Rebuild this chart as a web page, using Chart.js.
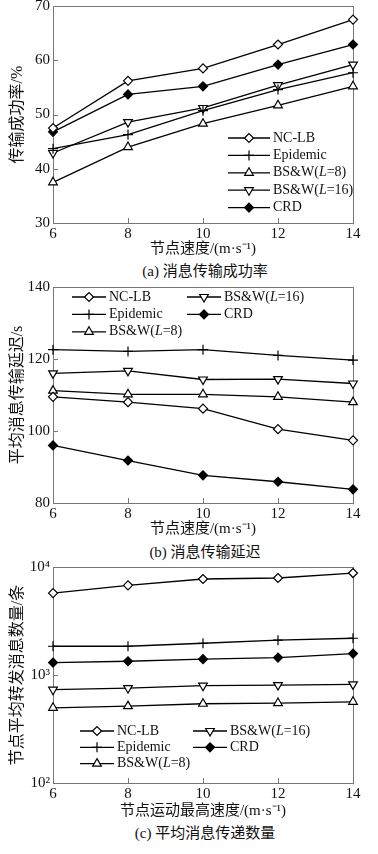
<!DOCTYPE html>
<html lang="zh">
<head>
<meta charset="UTF-8">
<title>节点速度对比</title>
<script src="https://cdn.jsdelivr.net/npm/chart.js@4"></script>
<style>
  body { margin: 0; background: #fff; }
  .box { position: absolute; left: 0; width: 378px; }
  .cap { position: absolute; left: 105px; width: 200px; text-align: center;
         font: 15px "Liberation Serif", "Noto Sans CJK SC", serif; line-height: 20px; color: #111; }
</style>
</head>
<body>
<div class="box" style="top:-6px;height:264px"><canvas id="chartA"></canvas></div>
<div class="cap" style="top:261px">(a) 消息传输成功率</div>
<div class="box" style="top:275px;height:263px"><canvas id="chartB"></canvas></div>
<div class="cap" style="top:542px">(b) 消息传输延迟</div>
<div class="box" style="top:555px;height:265px"><canvas id="chartC"></canvas></div>
<div class="cap" style="top:823px">(c) 平均消息传递数量</div>

<script>
// x values (node speed, m/s)
const speeds = [6, 8, 10, 12, 14];
const seriesNames = ['NC-LB', 'Epidemic', 'BS&W(L=8)', 'BS&W(L=16)', 'CRD'];

// (a) delivery ratio, %
const successNCLB = [47.5, 56.2, 58.5, 62.9, 67.5];
const successEpidemic = [43.7, 46.3, 50.7, 54.6, 57.7];
const successBSW8 = [37.5, 44.0, 48.3, 51.7, 55.2];
const successBSW16 = [42.9, 48.6, 51.2, 55.4, 59.2];
const successCRD = [46.8, 53.7, 55.2, 59.2, 62.9];

// (b) average delay, s
const delayNCLB = [109.5, 108.0, 106.2, 100.5, 97.4];
const delayEpidemic = [122.6, 122.1, 122.6, 121.0, 119.7];
const delayBSW8 = [111.2, 110.2, 110.2, 109.5, 108.0];
const delayBSW16 = [116.0, 116.7, 114.3, 114.4, 113.2];
const delayCRD = [96.0, 91.8, 87.7, 85.9, 83.8];

// (c) forwarded messages per node
const countNCLB = [5730, 6760, 7740, 7910, 8790];
const countEpidemic = [1846, 1846, 1968, 2100, 2190];
const countBSW8 = [497, 515, 542, 550, 565];
const countBSW16 = [731, 757, 796, 807, 819];
const countCRD = [1302, 1340, 1400, 1449, 1578];

const logTickLabels = { 100: '10²', 1000: '10³', 10000: '10⁴' };

const SERIF = '"Liberation Serif", "Noto Sans CJK SC", serif';

// marker look for each series, same order as seriesNames
const markers = [
  { pointStyle: 'rectRot', pointRadius: 4.5, pointBackgroundColor: '#fff', pointRotation: 0 },
  { pointStyle: 'cross', pointRadius: 5, pointBackgroundColor: '#fff', pointRotation: 0 },
  { pointStyle: 'triangle', pointRadius: 5, pointBackgroundColor: '#fff', pointRotation: 0 },
  { pointStyle: 'triangle', pointRadius: 5, pointBackgroundColor: '#fff', pointRotation: 180 },
  { pointStyle: 'rectRot', pointRadius: 4.5, pointBackgroundColor: '#000', pointRotation: 0 }
];

function makeDatasets(arrays) {
  return arrays.map((arr, i) => Object.assign({
    label: seriesNames[i],
    data: speeds.map((x, j) => ({ x: x, y: arr[j] })),
    borderColor: '#000',
    borderWidth: 1.3,
    pointBorderColor: '#000',
    pointBorderWidth: 1.2,
    pointHoverRadius: 5,
    clip: false
  }, markers[i]));
}

// frame + inward tick marks
const frameTicks = {
  id: 'frameTicks',
  beforeDatasetsDraw(chart) {
    const { ctx, chartArea: a, scales: { x, y } } = chart;
    ctx.save();
    ctx.strokeStyle = '#777';
    ctx.lineWidth = 1;
    ctx.strokeRect(a.left + 0.5, a.top + 0.5, a.right - a.left, a.bottom - a.top);
    ctx.beginPath();
    x.ticks.forEach(t => {
      const px = Math.round(x.getPixelForValue(t.value)) + 0.5;
      ctx.moveTo(px, a.bottom); ctx.lineTo(px, a.bottom - 5);
    });
    y.ticks.forEach(t => {
      const py = Math.round(y.getPixelForValue(t.value)) + 0.5;
      ctx.moveTo(a.left, py); ctx.lineTo(a.left + 5, py);
    });
    ctx.stroke();
    ctx.restore();
  }
};

function drawLegendLabel(ctx, text, x, y) {
  // italic L in BS&W(L=..)
  const parts = text.split(/(L)(?==)/);
  parts.forEach(p => {
    ctx.font = (p === 'L' ? 'italic ' : '') + '14px ' + SERIF;
    ctx.fillText(p, x, y);
    x += ctx.measureText(p).width;
  });
}

// legend drawn inside the plot, in columns
const insideLegend = {
  id: 'insideLegend',
  afterDatasetsDraw(chart, args, opts) {
    const { ctx, chartArea: a } = chart;
    ctx.save();
    ctx.textBaseline = 'middle';
    ctx.textAlign = 'left';
    opts.columns.forEach(col => {
      col.items.forEach((idx, row) => {
        const ds = chart.data.datasets[idx];
        const y = a.top + opts.y + row * opts.rowHeight;
        const x0 = a.left + col.x, x1 = x0 + opts.lineLength;
        ctx.strokeStyle = ds.borderColor;
        ctx.lineWidth = ds.borderWidth;
        ctx.beginPath(); ctx.moveTo(x0, y); ctx.lineTo(x1, y); ctx.stroke();
        ctx.fillStyle = ds.pointBackgroundColor;
        ctx.strokeStyle = ds.pointBorderColor;
        ctx.lineWidth = ds.pointBorderWidth;
        Chart.helpers.drawPoint(ctx, {
          pointStyle: ds.pointStyle, rotation: ds.pointRotation,
          radius: ds.pointRadius, borderWidth: ds.pointBorderWidth
        }, (x0 + x1) / 2, y);
        ctx.fillStyle = '#111';
        drawLegendLabel(ctx, ds.label, x1 + opts.gap, y);
      });
    });
    ctx.restore();
  }
};

function makeChart(id, arrays, yScale, yTitle, xTitle, xHeight, legend) {
  return new Chart(document.getElementById(id), {
    type: 'line',
    data: { datasets: makeDatasets(arrays) },
    plugins: [frameTicks, insideLegend],
    options: {
      responsive: true,
      maintainAspectRatio: false,
      animation: false,
      layout: { padding: { top: 12, right: 25, left: 0, bottom: 0 } },
      plugins: {
        legend: { display: false },
        tooltip: { enabled: false },
        insideLegend: legend
      },
      scales: {
        x: {
          type: 'linear', min: 6, max: 14,
          grid: { display: false, drawTicks: false },
          border: { display: false },
          ticks: { stepSize: 2, padding: 2, color: '#111', font: { family: SERIF, size: 15 } },
          title: { display: true, text: xTitle, color: '#111', padding: 0, font: { family: SERIF, size: 15 } },
          afterFit: s => { s.height = xHeight; }
        },
        y: Object.assign({
          grid: { display: false, drawTicks: false },
          border: { display: false },
          title: { display: true, text: yTitle, color: '#111', padding: { top: 8, bottom: 0 }, font: { family: SERIF, size: 16 } },
          afterFit: s => { s.width = 53; }
        }, yScale)
      }
    }
  });
}

makeChart('chartA',
  [successNCLB, successEpidemic, successBSW8, successBSW16, successCRD],
  { min: 30, max: 70, ticks: { stepSize: 10, padding: 3, color: '#111', font: { family: SERIF, size: 15 } } },
  '传输成功率/%', '节点速度/(m·s⁻¹)', 35,
  { columns: [{ x: 175, items: [0, 1, 2, 3, 4] }], y: 132, rowHeight: 17.4, lineLength: 42, gap: 3 });

makeChart('chartB',
  [delayNCLB, delayEpidemic, delayBSW8, delayBSW16, delayCRD],
  { min: 80, max: 140, ticks: { stepSize: 20, padding: 3, color: '#111', font: { family: SERIF, size: 15 } } },
  '平均消息传输延迟/s', '节点速度/(m·s⁻¹)', 35,
  { columns: [{ x: 19, items: [0, 1, 2] }, { x: 134, items: [3, 4] }], y: 10, rowHeight: 17.4, lineLength: 34, gap: 3 });

makeChart('chartC',
  [countNCLB, countEpidemic, countBSW8, countBSW16, countCRD],
  {
    type: 'logarithmic', min: 100, max: 10000,
    afterBuildTicks: s => { s.ticks = Object.keys(logTickLabels).map(v => ({ value: +v })); },
    ticks: { padding: 3, color: '#111', font: { family: SERIF, size: 15 }, callback: v => logTickLabels[v] || '' }
  },
  '节点平均转发消息数量/条', '节点运动最高速度/(m·s⁻¹)', 37,
  { columns: [{ x: 27, items: [0, 1, 2] }, { x: 140, items: [3, 4] }], y: 164, rowHeight: 16.3, lineLength: 34, gap: 3 });
</script>
</body>
</html>
